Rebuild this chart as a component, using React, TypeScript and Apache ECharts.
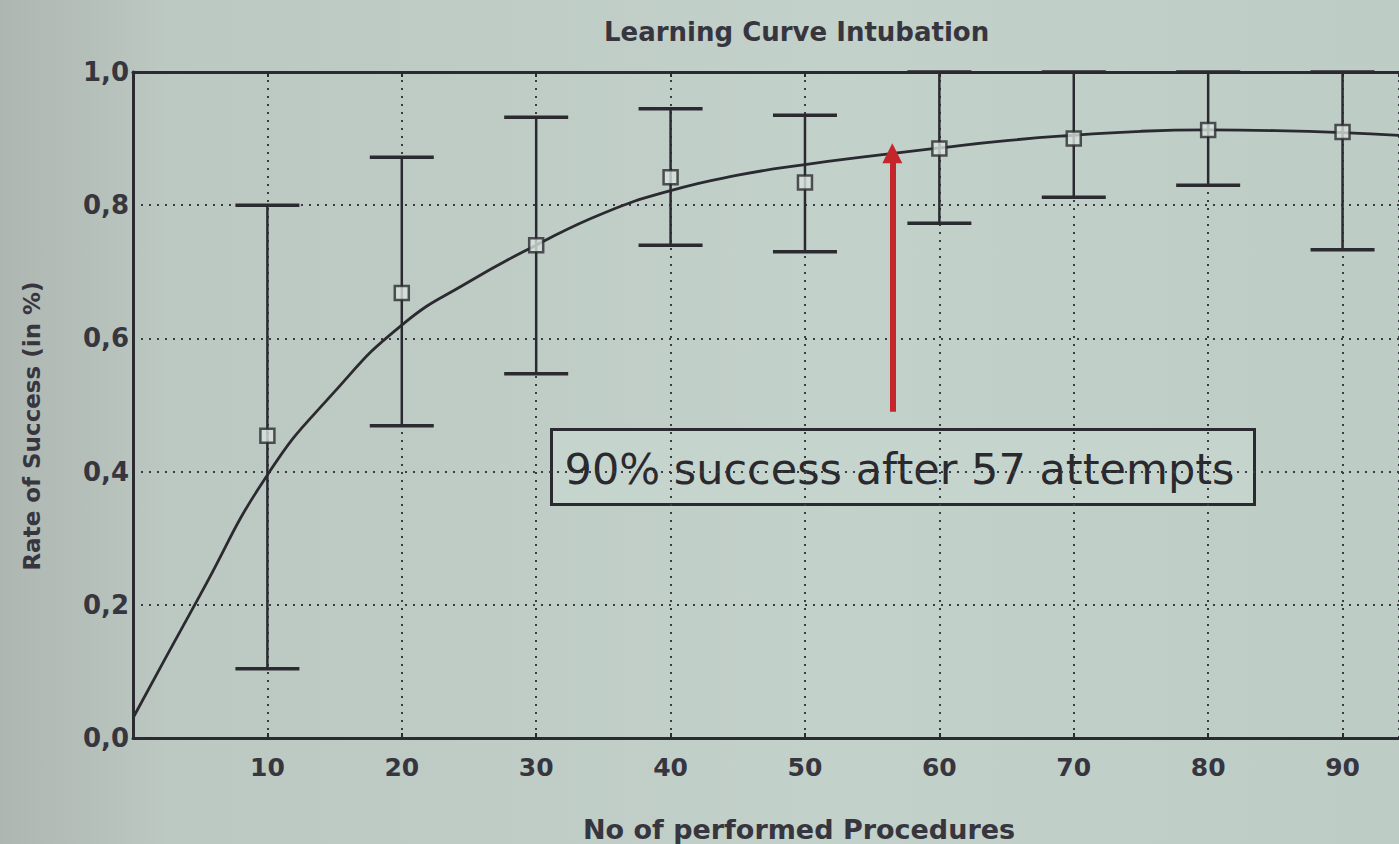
import React, { useEffect, useRef } from "react";
import * as echarts from "echarts";

// ---- data ----
const title = "Learning Curve Intubation";
const xName = "No of performed Procedures";
const yName = "Rate of Success (in %)";
const xTicks = [10, 20, 30, 40, 50, 60, 70, 80, 90];
const yTicks = [0, 0.2, 0.4, 0.6, 0.8, 1.0];
const xVisibleMax = 94.2; // the photo is cropped at about x = 94

const attempts = [10, 20, 30, 40, 50, 60, 70, 80, 90];
const success = [0.454, 0.668, 0.74, 0.842, 0.834, 0.885, 0.9, 0.913, 0.91];
const errLow = [0.104, 0.469, 0.547, 0.74, 0.73, 0.773, 0.812, 0.83, 0.733];
const errHigh = [0.8, 0.872, 0.932, 0.945, 0.935, 1.0, 1.0, 1.0, 1.0];

const curveX = [0, 5, 10, 15, 20, 25, 30, 35, 40, 45, 50, 55, 60, 65, 70, 75, 80, 85, 90, 95];
const curveY = [0.03, 0.215, 0.395, 0.52, 0.62, 0.685, 0.74, 0.788, 0.822, 0.845, 0.861, 0.874, 0.886, 0.897, 0.905, 0.911, 0.913, 0.912, 0.909, 0.904];

const annotationText = "90% success after 57 attempts";
const arrowX = 56.5;
const arrowFrom = 0.49;
const arrowTo = 0.878;

const INK = "#2b2a30";
const TXT = "#37363e";
const FONT = "DejaVu Sans";

export default function App() {
  const ref = useRef<HTMLDivElement>(null);
  useEffect(() => {
    if (!ref.current) return;
    const chart = echarts.init(ref.current, undefined, { renderer: "svg" });
    const gridDash = { color: "#3c3b44", width: 2, type: [2, 6] as any };
    chart.setOption({
      animation: false,
      backgroundColor: {
        type: "linear",
        x: 0,
        y: 0,
        x2: 1,
        y2: 0,
        colorStops: [
          { offset: 0, color: "#aeb6b1" },
          { offset: 0.12, color: "#bcc8c2" },
          { offset: 0.6, color: "#c2d1ca" },
          { offset: 1, color: "#bdcdc6" },
        ],
      },
      title: {
        text: title,
        left: 599,
        top: 14,
        textStyle: { fontFamily: FONT, fontSize: 26, fontWeight: "bold", color: TXT },
      },
      grid: { left: 133, top: 72, right: 0, bottom: 106, outerBoundsMode: "none", containLabel: false },
      xAxis: [
        {
          type: "value",
          min: 0,
          max: xVisibleMax,
          interval: 10,
          name: xName,
          nameLocation: "middle",
          nameGap: 78,
          nameTextStyle: { fontFamily: FONT, fontSize: 27, fontWeight: "bold", color: TXT, padding: [0, 0, 0, 66] },
          axisLine: { show: true, lineStyle: { color: INK, width: 3 } },
          axisTick: { show: true, inside: true, length: 5, lineStyle: { color: INK, width: 2 } },
          axisLabel: {
            fontFamily: FONT,
            fontSize: 25,
            fontWeight: "bold",
            color: TXT,
            margin: 17,
            showMaxLabel: false,
            formatter: (v: number) => (xTicks.includes(v) ? String(v) : ""),
          },
          splitLine: { show: true, lineStyle: gridDash },
        },
        {
          type: "value",
          position: "top",
          min: 0,
          max: xVisibleMax,
          interval: 10,
          axisLine: { show: true, onZero: false, lineStyle: { color: INK, width: 3 } },
          axisTick: { show: true, inside: true, length: 5, lineStyle: { color: INK, width: 2 } },
          axisLabel: { show: false },
          splitLine: { show: false },
        },
      ],
      yAxis: {
        type: "value",
        min: 0,
        max: 1,
        interval: 0.2,
        name: yName,
        nameLocation: "middle",
        nameGap: 90,
        nameRotate: 90,
        nameTextStyle: { fontFamily: FONT, fontSize: 23, fontWeight: "bold", color: TXT, padding: [0, 42, 0, 0] },
        axisLine: { show: true, lineStyle: { color: INK, width: 3 } },
        axisTick: { show: false },
        axisLabel: {
          fontFamily: FONT,
          fontSize: 26,
          fontWeight: "bold",
          color: TXT,
          margin: 4,
          formatter: (v: number) => {
            const t = yTicks.find((k) => Math.abs(k - v) < 1e-6);
            return t === undefined ? "" : t.toFixed(1).replace(".", ",");
          },
        },
        splitLine: { show: true, lineStyle: gridDash },
      },
      series: [
        {
          type: "custom",
          name: "error",
          data: attempts.map((a, i) => [a, errLow[i], errHigh[i]]),
          encode: { x: 0, y: [1, 2] },
          z: 3,
          renderItem: (_params: any, api: any) => {
            const x = api.value(0);
            const lo = api.coord([x, api.value(1)]);
            const hi = api.coord([x, api.value(2)]);
            const hw = 32;
            const st = { stroke: INK, lineWidth: 2.5 };
            const capSt = { stroke: INK, lineWidth: 3.5 };
            return {
              type: "group",
              children: [
                { type: "line", shape: { x1: lo[0], y1: lo[1], x2: hi[0], y2: hi[1] }, style: st },
                { type: "line", shape: { x1: lo[0] - hw, y1: lo[1], x2: lo[0] + hw, y2: lo[1] }, style: capSt },
                { type: "line", shape: { x1: hi[0] - hw, y1: hi[1], x2: hi[0] + hw, y2: hi[1] }, style: capSt },
              ],
            };
          },
        },
        {
          type: "line",
          name: "fit",
          data: curveX.map((x, i) => [x, curveY[i]]),
          smooth: true,
          showSymbol: false,
          symbol: "none",
          z: 4,
          lineStyle: { color: INK, width: 2.8 },
          markLine: {
            silent: true,
            symbol: ["none", "triangle"],
            symbolSize: 20,
            label: { show: false },
            lineStyle: { color: "#c4262c", width: 6, type: "solid" },
            itemStyle: { color: "#c4262c" },
            data: [[{ coord: [arrowX, arrowFrom] }, { coord: [arrowX, arrowTo] }]],
          },
        },
        {
          type: "scatter",
          name: "mean",
          data: attempts.map((a, i) => [a, success[i]]),
          symbol: "rect",
          symbolSize: 14,
          z: 5,
          itemStyle: { color: "#d8e2dd", borderColor: INK, borderWidth: 2.5 },
        },
      ],
      graphic: [
        {
          type: "group",
          left: 550,
          top: 428,
          z: 100,
          children: [
            {
              type: "rect",
              shape: { x: 0, y: 0, width: 703, height: 75 },
              style: { fill: "#c6d4ce", stroke: INK, lineWidth: 3 },
            },
            {
              type: "text",
              x: 348,
              y: 39,
              style: {
                text: annotationText,
                fill: "#2a2a2e",
                font: '43px "DejaVu Sans"',
                align: "center",
                verticalAlign: "middle",
              },
            },
          ],
        },
      ],
    });
    return () => chart.dispose();
  }, []);
  return <div ref={ref} style={{ position: "absolute", left: 0, top: 0, width: 1399, height: 844 }} />;
}
